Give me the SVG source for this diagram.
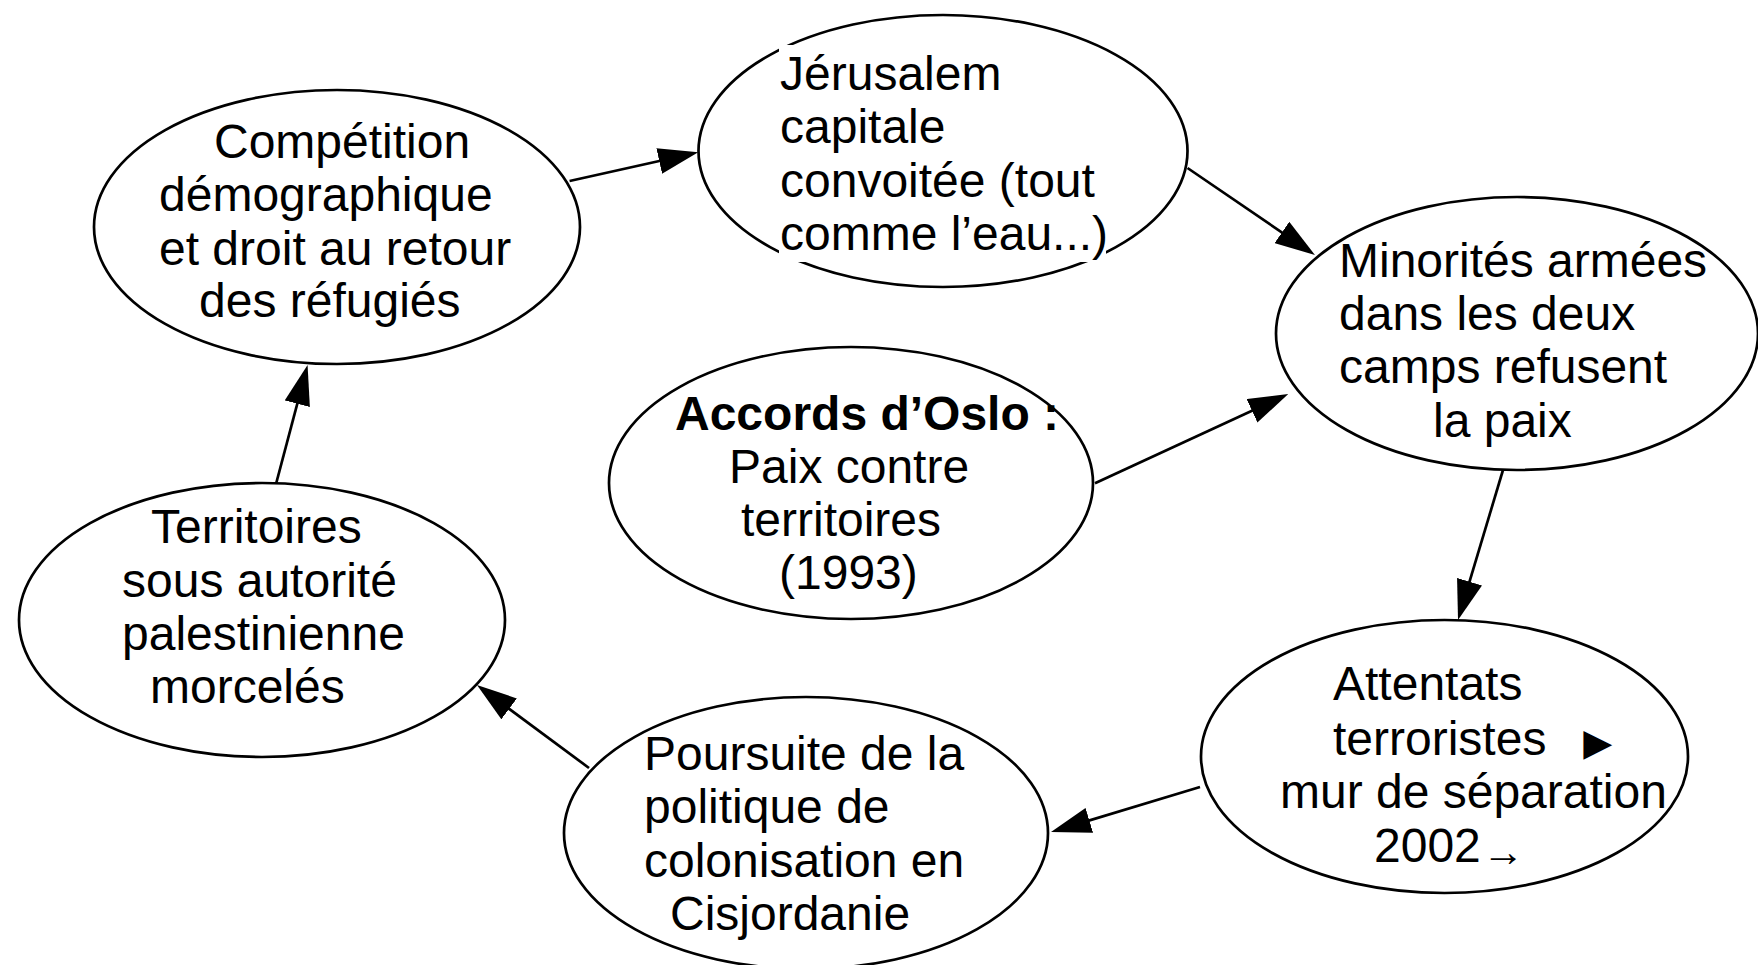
<svg xmlns="http://www.w3.org/2000/svg" width="1758" height="965" viewBox="0 0 1758 965">
<style>
.n{fill:#fff;stroke:#000;stroke-width:2.7}
.t{font-family:"Liberation Sans",Arial,sans-serif;font-size:48px;fill:#000}
.b{font-weight:bold}
.c{stroke:#000;stroke-width:2.7;fill:none;marker-end:url(#ah)}
</style>
<defs>
<marker id="ah" markerUnits="userSpaceOnUse" markerWidth="40" markerHeight="26" viewBox="0 0 40 26" refX="30" refY="13" orient="auto">
<path d="M0,0 L40,13 L0,26 z" fill="#000"/>
</marker>
</defs>
<rect width="1758" height="965" fill="#fff"/>
<g id="connectors">
<line class="c" x1="569.6" y1="181" x2="688.5" y2="154.5"/>
<line class="c" x1="1187.5" y1="168" x2="1306.7" y2="249.4"/>
<line class="c" x1="1095" y1="483.3" x2="1279.2" y2="398.2"/>
<line class="c" x1="1503" y1="470" x2="1460.9" y2="610.4"/>
<line class="c" x1="1200" y1="787" x2="1060.6" y2="829.1"/>
<line class="c" x1="589" y1="768" x2="485" y2="691"/>
<line class="c" x1="276" y1="484" x2="305" y2="374.7"/>
</g>
<g id="competition">
<ellipse class="n" cx="337" cy="227" rx="243" ry="137"/>
<text class="t"><tspan x="214" y="158">Compétition</tspan><tspan x="159" y="211">démographique</tspan><tspan x="159" y="265">et droit au retour</tspan><tspan x="199" y="317">des réfugiés</tspan></text>
</g>
<g id="jerusalem">
<ellipse class="n" cx="943" cy="151" rx="244.5" ry="136"/>
<rect x="779" y="45" width="223" height="55" fill="#fff"/>
<rect x="779" y="207" width="327" height="55" fill="#fff"/>
<text class="t"><tspan x="780" y="90">Jérusalem</tspan><tspan x="780" y="143">capitale</tspan><tspan x="780" y="197">convoitée (tout</tspan><tspan x="780" y="250">comme l’eau...)</tspan></text>
</g>
<g id="minorites">
<ellipse class="n" cx="1517" cy="333.5" rx="241" ry="136.5"/>
<text class="t"><tspan x="1339" y="277">Minorités armées</tspan><tspan x="1339" y="330">dans les deux</tspan><tspan x="1339" y="383">camps refusent</tspan><tspan x="1433" y="437">la paix</tspan></text>
</g>
<g id="oslo">
<ellipse class="n" cx="851" cy="483" rx="242" ry="136"/>
<text class="t"><tspan class="b" x="675" y="430">Accords d’Oslo :</tspan><tspan x="729" y="483">Paix contre</tspan><tspan x="741" y="536">territoires</tspan><tspan x="779" y="589">(1993)</tspan></text>
</g>
<g id="territoires">
<ellipse class="n" cx="262" cy="620" rx="243" ry="137"/>
<text class="t"><tspan x="151" y="543">Territoires</tspan><tspan x="122" y="597">sous autorité</tspan><tspan x="122" y="650">palestinienne</tspan><tspan x="150" y="703">morcelés</tspan></text>
</g>
<g id="poursuite">
<ellipse class="n" cx="806" cy="833" rx="242" ry="136"/>
<text class="t"><tspan x="644" y="770">Poursuite de la</tspan><tspan x="644" y="823">politique de</tspan><tspan x="644" y="877">colonisation en</tspan><tspan x="670" y="930">Cisjordanie</tspan></text>
</g>
<g id="attentats">
<ellipse class="n" cx="1444.5" cy="756.5" rx="243.5" ry="136.5"/>
<text class="t"><tspan x="1333" y="700">Attentats</tspan><tspan x="1333" y="755">terroristes</tspan><tspan x="1574" y="759">►</tspan><tspan x="1280" y="808">mur de séparation</tspan><tspan x="1374" y="862">2002</tspan><tspan x="1482" y="866" style="font-size:42px">→</tspan></text>
</g>
</svg>
